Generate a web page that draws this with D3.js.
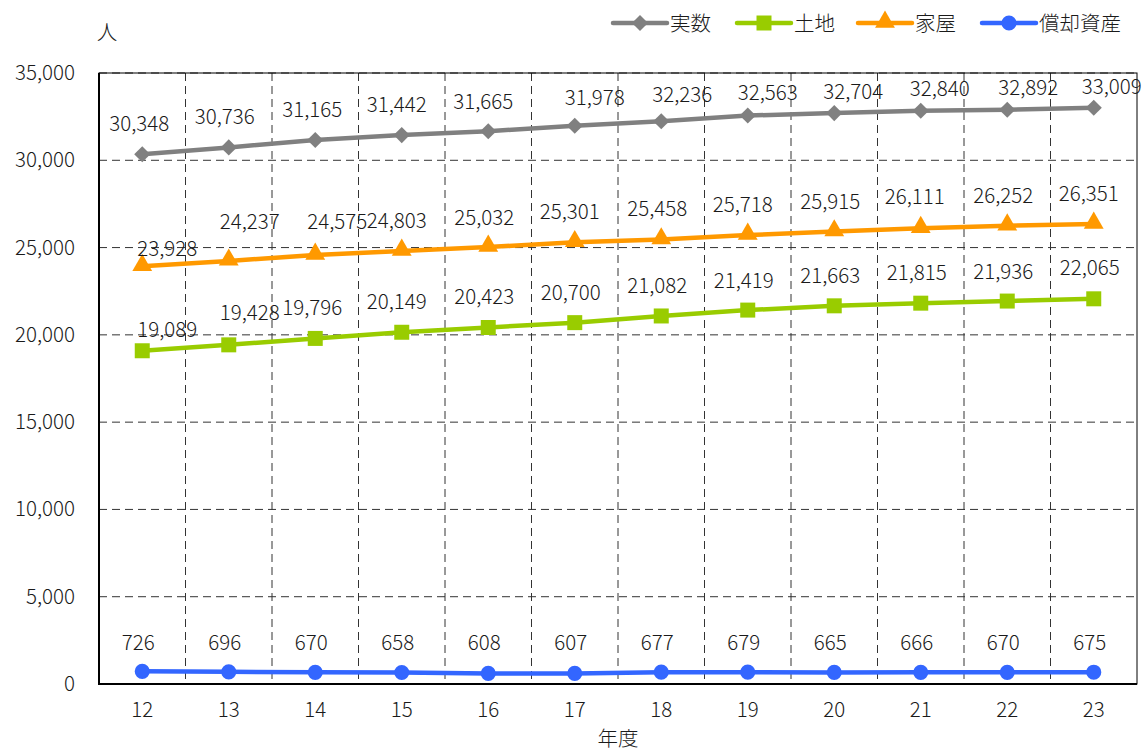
<!DOCTYPE html>
<html><head><meta charset="utf-8">
<script src="https://cdn.jsdelivr.net/npm/d3@7/dist/d3.min.js"></script>
<style>
body{margin:0;background:#fff;}
text{font-family:"Noto Sans CJK JP","Noto Sans",sans-serif;fill:#1a1a1a;font-weight:300;}
</style></head>
<body><svg id="c" width="1147" height="751"></svg>
<script>
const years = ["12","13","14","15","16","17","18","19","20","21","22","23"];
const jissu = [30348,30736,31165,31442,31665,31978,32236,32563,32704,32840,32892,33009];
const tochi = [19089,19428,19796,20149,20423,20700,21082,21419,21663,21815,21936,22065];
const kaoku = [23928,24237,24575,24803,25032,25301,25458,25718,25915,26111,26252,26351];
const shokyaku = [726,696,670,658,608,607,677,679,665,666,670,675];
const yTicks = [0,5000,10000,15000,20000,25000,30000,35000];

const series = [
  {name:"実数", values:jissu, color:"#808080", shape:"diamond"},
  {name:"土地", values:tochi, color:"#99cc00", shape:"square"},
  {name:"家屋", values:kaoku, color:"#ff9900", shape:"triangle"},
  {name:"償却資産", values:shokyaku, color:"#3366ff", shape:"circle"}
];
// label nudges (dx, dy) relative to default placement above each point
const nudges = {
  "実数":[[1,0],[0,0],[1,0],[-1,0],[-1,1],[24,2],[25,4],[24,7],[23,9],[23,8],[25,8],[22,9]],
  "土地":[[29,9],[25,-2],[1,0],[-1,0],[0,0],[0,0],[0,0],[0,1],[0,0],[0,0],[0,1],[0,-1]],
  "家屋":[[29,13],[25,-9],[26,-3],[-1,0],[0,1],[-1,0],[0,-1],[-1,0],[0,0],[-2,-1],[0,0],[-1,0]],
  "償却資産":[[0,1.5],[0,1],[0,1],[0,0.5],[0,0],[0,0],[0,1],[0,1],[0,0.5],[0,0.5],[0,1],[0,1]]
};

const FS = 20.5;
const svg = d3.select("#c");
const L=99, R=1137, T=73, B=684;
const x = d3.scaleBand().domain(years).range([L,R]);
const y = d3.scaleLinear().domain([0,35000]).range([B,T]);
const fmt = d3.format(",");

// horizontal grid
svg.append("g").selectAll("line").data(yTicks.filter(d=>d>0)).join("line")
  .attr("x1",L).attr("x2",R).attr("y1",d=>y(d)).attr("y2",d=>y(d))
  .attr("stroke","#333").attr("stroke-width",1).attr("stroke-dasharray","8,5");
// vertical grid
svg.append("g").selectAll("line").data(years.slice(1)).join("line")
  .attr("x1",d=>x(d)).attr("x2",d=>x(d)).attr("y1",T).attr("y2",B)
  .attr("stroke","#333").attr("stroke-width",1).attr("stroke-dasharray","8,5");
// frame
svg.append("rect").attr("x",L).attr("y",T).attr("width",R-L).attr("height",B-T)
  .attr("fill","none").attr("stroke","#000").attr("stroke-width",1);
svg.append("line").attr("x1",L).attr("x2",L).attr("y1",T).attr("y2",B+1).attr("stroke","#000").attr("stroke-width",2);
svg.append("line").attr("x1",L-1).attr("x2",R).attr("y1",B).attr("y2",B).attr("stroke","#000").attr("stroke-width",2);

// y axis
const ya = svg.append("g").attr("transform",`translate(${L},0)`)
  .call(d3.axisLeft(y).tickValues(yTicks).tickFormat(fmt).tickSize(0).tickPadding(24));
ya.select(".domain").remove();
ya.selectAll("text").attr("font-size",FS).style("font-family",'"Noto Sans CJK JP","Noto Sans",sans-serif').style("font-weight",300).attr("fill","#1a1a1a");
// x axis
const xa = svg.append("g").attr("transform",`translate(0,${B})`)
  .call(d3.axisBottom(x).tickSize(0).tickPadding(18));
xa.select(".domain").remove();
xa.selectAll("text").attr("font-size",FS).style("font-family",'"Noto Sans CJK JP","Noto Sans",sans-serif').style("font-weight",300).attr("fill","#1a1a1a");

svg.append("text").attr("x",107).attr("y",40).attr("text-anchor","middle").attr("font-size",FS).text("人");
svg.append("text").attr("x",618).attr("y",746).attr("text-anchor","middle").attr("font-size",FS).text("年度");

const sym = {
  diamond: d3.symbol().type(d3.symbolSquare).size(130),
  square: d3.symbol().type(d3.symbolSquare).size(225),
  triangle: d3.symbol().type(d3.symbolTriangle).size(170),
  circle: d3.symbol().type(d3.symbolCircle).size(180)
};
const rot = s => s==="diamond" ? " rotate(45)" : "";
const cx = d => x(d)+x.bandwidth()/2;
const line = d3.line().x(d=>cx(d.year)).y(d=>y(d.v));

series.forEach(s=>{
  const pts = years.map((yr,i)=>({year:yr,v:s.values[i],i}));
  svg.append("path").datum(pts).attr("d",line).attr("fill","none")
    .attr("stroke",s.color).attr("stroke-width",4.5).attr("stroke-linejoin","round");
  svg.append("g").selectAll("path").data(pts).join("path")
    .attr("d",sym[s.shape]).attr("fill",s.color)
    .attr("transform",d=>`translate(${cx(d.year)},${y(d.v)+(s.shape==="triangle"?-1:0)})${rot(s.shape)}`);
  svg.append("g").selectAll("text").data(pts).join("text")
    .attr("x",d=>cx(d.year)-4+nudges[s.name][d.i][0])
    .attr("y",d=>y(d.v)-23+nudges[s.name][d.i][1])
    .attr("text-anchor","middle").attr("font-size",FS).text(d=>fmt(d.v));
});

// legend
const legX = [613,737,858,982];
series.forEach((s,i)=>{
  const g = svg.append("g").attr("transform",`translate(${legX[i]},23)`);
  g.append("line").attr("x1",0).attr("x2",54).attr("stroke",s.color).attr("stroke-width",4.5).attr("stroke-linecap","round");
  g.append("path").attr("d",sym[s.shape]).attr("fill",s.color).attr("transform",`translate(27,${s.shape==="triangle"?-1:0})${rot(s.shape)}`);
  g.append("text").attr("x",57).attr("y",8).attr("font-size",FS).text(s.name);
});
</script></body></html>
